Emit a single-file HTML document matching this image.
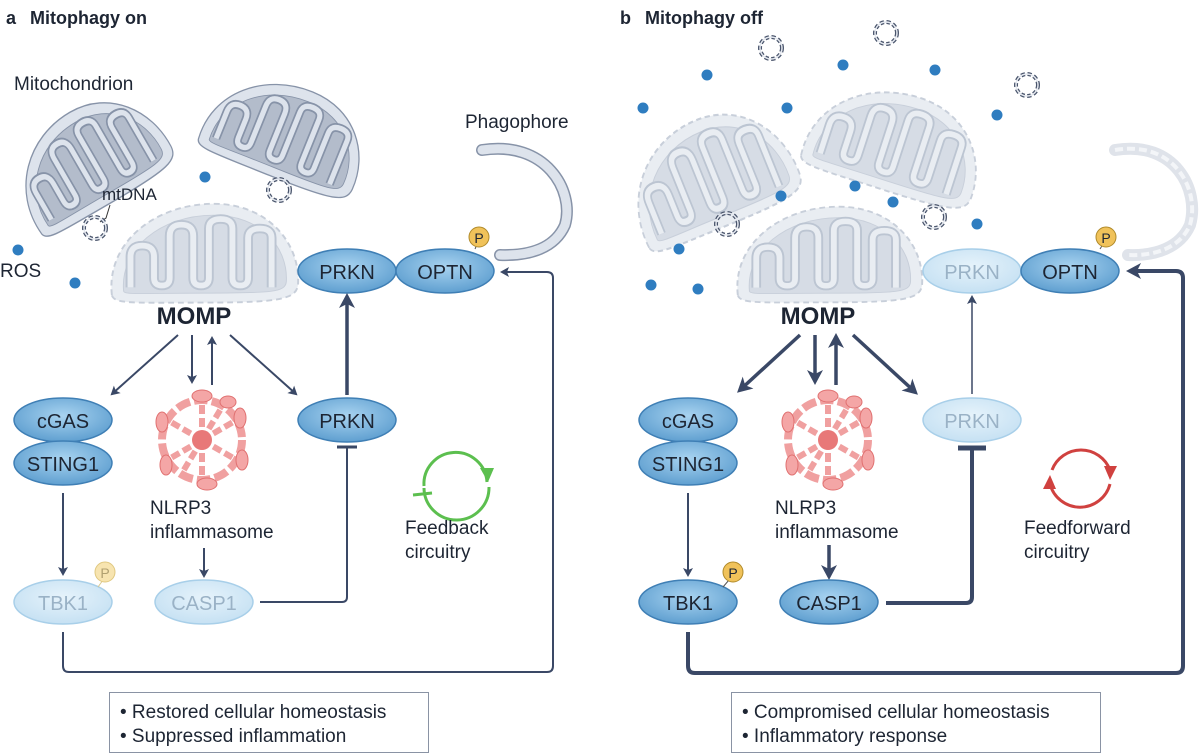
<!DOCTYPE html>
<html><head><meta charset="utf-8"><style>
html,body{margin:0;padding:0;background:#fff}
svg{display:block}
text{font-family:"Liberation Sans",sans-serif;fill:#1d2533}
</style></head><body>
<svg width="1200" height="755" viewBox="0 0 1200 755" xmlns="http://www.w3.org/2000/svg">
<defs>
<radialGradient id="gp" cx="50%" cy="40%" r="60%"><stop offset="0" stop-color="#a8d3f0"/><stop offset="1" stop-color="#5f9fd0"/></radialGradient>
<radialGradient id="gl" cx="50%" cy="40%" r="60%"><stop offset="0" stop-color="#e6f3fb"/><stop offset="1" stop-color="#c6e1f3"/></radialGradient>
<marker id="ah" markerWidth="10" markerHeight="10" refX="7" refY="5" orient="auto" markerUnits="userSpaceOnUse"><path d="M0,0 L9,5 L0,10 L2,5Z" fill="#3a4866"/></marker>
<marker id="ahb" markerWidth="16" markerHeight="16" refX="11" refY="8" orient="auto" markerUnits="userSpaceOnUse"><path d="M0,0 L15,8 L0,16 L4,8Z" fill="#3a4866"/></marker>
<path id="serp" d="M25,92 L25,60 Q25,48 37,48 Q49,48 49,60 L49,82 Q49,90 57,90 Q65,90 65,82 L65,38 Q65,26 77,26 Q89,26 89,38 L89,82 Q89,90 97,90 Q105,90 105,82 L105,30 Q105,20 117,20 Q129,20 129,30 L129,82 Q129,90 137,90 Q145,90 145,82 L145,40 Q145,30 157,30 Q169,30 169,40 L169,92" fill="none"/>
<g id="mitoA">
<path d="M6,100 C0,45 50,4 110,4 C165,4 198,45 196,88 C195,104 180,108 100,108 C30,108 8,110 6,100Z" fill="#dde3ec" stroke="#8793a8" stroke-width="1.5"/>
<path d="M18,96 C14,52 55,16 110,16 C158,16 186,50 184,86 C183,97 170,98 100,98 C38,98 19,100 18,96Z" fill="#b3bccb" stroke="#8793a8" stroke-width="1"/>
<use href="#serp" stroke="#8793a8" stroke-width="10" stroke-linejoin="round"/>
<use href="#serp" stroke="#dde3ec" stroke-width="6" stroke-linejoin="round"/>
</g>
<g id="mitoF">
<path d="M6,100 C0,45 50,4 110,4 C165,4 198,45 196,88 C195,104 180,108 100,108 C30,108 8,110 6,100Z" fill="#e9edf2" stroke="#c8cfda" stroke-width="2" stroke-dasharray="6 4"/>
<path d="M18,96 C14,52 55,16 110,16 C158,16 186,50 184,86 C183,97 170,98 100,98 C38,98 19,100 18,96Z" fill="#d6dce5" stroke="#c8cfda" stroke-width="1"/>
<use href="#serp" stroke="#bcc5d2" stroke-width="10" stroke-linejoin="round"/>
<use href="#serp" stroke="#e9edf2" stroke-width="6" stroke-linejoin="round"/>
</g>
<g id="dna"><circle r="11" fill="none" stroke="#4a556c" stroke-width="4" stroke-dasharray="4 2.5"/><circle r="11" fill="none" stroke="#e4e8ef" stroke-width="1.5"/></g>
<g id="infl">
<circle r="40" fill="none" stroke="#f0a0a0" stroke-width="8" stroke-dasharray="14 4"/>
<g stroke="#f0a0a0" stroke-width="6" stroke-dasharray="9 4"><path d="M0,0 L0,-38 M0,0 L33,-19 M0,0 L33,19 M0,0 L0,38 M0,0 L-33,19 M0,0 L-33,-19 M0,0 L20,-33 M0,0 L-20,33"/></g>
<circle r="10" fill="#e87878"/>
<g fill="#f4a6a6" stroke="#e07070" stroke-width="1"><ellipse cx="0" cy="-44" rx="10" ry="6"/><ellipse cx="38" cy="-22" rx="6" ry="10"/><ellipse cx="40" cy="20" rx="6" ry="10"/><ellipse cx="5" cy="44" rx="10" ry="6"/><ellipse cx="-36" cy="25" rx="6" ry="10"/><ellipse cx="-40" cy="-18" rx="6" ry="10"/><ellipse cx="26" cy="-38" rx="8" ry="6"/></g>
</g>
</defs>

<!-- PANEL A -->
<text x="6" y="24" font-size="18" font-weight="bold">a</text>
<text x="30" y="24" font-size="18" font-weight="bold">Mitophagy on</text>
<text x="14" y="90" font-size="19">Mitochondrion</text>
<use href="#mitoA" transform="translate(88,160) rotate(-30) scale(0.82,0.95) translate(-100,-57)"/>
<use href="#mitoA" transform="translate(287,133) rotate(22) scale(0.85,0.9) translate(-100,-57)"/>
<use href="#mitoF" transform="translate(106,200) scale(0.98,0.95)"/>
<text x="102" y="200" font-size="17">mtDNA</text>
<path d="M110,205 L106,218 L100,222" stroke="#333" stroke-width="1" fill="none"/>
<use href="#dna" x="95" y="228"/>
<use href="#dna" x="279" y="190"/>
<circle cx="18" cy="250" r="5.5" fill="#2f7dc0"/><circle cx="75" cy="283" r="5.5" fill="#2f7dc0"/><circle cx="205" cy="177" r="5.5" fill="#2f7dc0"/>
<text x="0" y="277" font-size="19">ROS</text>
<text x="465" y="128" font-size="19">Phagophore</text>
<path d="M482,150 C545,140 575,190 565,225 C555,248 530,256 500,255" fill="none" stroke="#8793a8" stroke-width="12" stroke-linecap="round"/>
<path d="M482,150 C545,140 575,190 565,225 C555,248 530,256 500,255" fill="none" stroke="#dde3ec" stroke-width="9" stroke-linecap="round"/>
<ellipse cx="347" cy="271" rx="49" ry="22" fill="url(#gp)" stroke="#3f7fb5" stroke-width="1.5"/>
<text x="347" y="279" font-size="20" text-anchor="middle">PRKN</text>
<ellipse cx="445" cy="271" rx="49" ry="22" fill="url(#gp)" stroke="#3f7fb5" stroke-width="1.5"/>
<text x="445" y="279" font-size="20" text-anchor="middle">OPTN</text>
<line x1="475" y1="249" x2="479" y2="240" stroke="#555" stroke-width="1"/>
<circle cx="479" cy="237" r="10" fill="#f0c25a" stroke="#b08a2a" stroke-width="1"/><text x="479" y="243" font-size="14" text-anchor="middle">P</text>
<text x="194" y="324" font-size="24" font-weight="bold" text-anchor="middle">MOMP</text>
<g stroke="#3a4866" stroke-width="2" fill="none">
<line x1="178" y1="335" x2="112" y2="394" marker-end="url(#ah)"/>
<line x1="192" y1="335" x2="192" y2="382" marker-end="url(#ah)"/>
<line x1="212" y1="385" x2="212" y2="338" marker-end="url(#ah)"/>
<line x1="230" y1="335" x2="296" y2="394" marker-end="url(#ah)"/>
<line x1="347" y1="395" x2="347" y2="297" stroke-width="3.5" marker-end="url(#ahb)"/>
<line x1="63" y1="493" x2="63" y2="574" marker-end="url(#ah)"/>
<line x1="204" y1="548" x2="204" y2="576" marker-end="url(#ah)"/>
<path d="M260,602 L342,602 Q347,602 347,597 L347,447"/>
<line x1="337" y1="447" x2="357" y2="447" stroke-width="3"/>
<path d="M63,632 L63,666 Q63,672 69,672 L547,672 Q553,672 553,666 L553,278 Q553,272 547,272 L502,272" marker-end="url(#ah)"/>
</g>
<ellipse cx="63" cy="420" rx="49" ry="22" fill="url(#gp)" stroke="#3f7fb5" stroke-width="1.5"/>
<text x="63" y="428" font-size="20" text-anchor="middle">cGAS</text>
<ellipse cx="63" cy="463" rx="49" ry="22" fill="url(#gp)" stroke="#3f7fb5" stroke-width="1.5"/>
<text x="63" y="471" font-size="20" text-anchor="middle">STING1</text>
<use href="#infl" x="202" y="440"/>
<text x="150" y="514" font-size="19">NLRP3</text>
<text x="150" y="538" font-size="19">inflammasome</text>
<ellipse cx="347" cy="420" rx="49" ry="22" fill="url(#gp)" stroke="#3f7fb5" stroke-width="1.5"/>
<text x="347" y="428" font-size="20" text-anchor="middle">PRKN</text>
<ellipse cx="63" cy="602" rx="49" ry="22" fill="url(#gl)" stroke="#a8cfe9" stroke-width="1.5"/>
<text x="63" y="610" font-size="20" text-anchor="middle" style="fill:#9ab2c6">TBK1</text>
<line x1="98" y1="587" x2="103" y2="580" stroke="#d8c890" stroke-width="1"/>
<circle cx="105" cy="572" r="10" fill="#f7e4b0" stroke="#e0c880" stroke-width="1"/><text x="105" y="578" font-size="14" text-anchor="middle" style="fill:#b0a070">P</text>
<ellipse cx="204" cy="602" rx="49" ry="22" fill="url(#gl)" stroke="#a8cfe9" stroke-width="1.5"/>
<text x="204" y="610" font-size="20" text-anchor="middle" style="fill:#9ab2c6">CASP1</text>
<g stroke="#5cbf4f" stroke-width="3" fill="none">
<path d="M424,486 A31,31 0 1 1 487,482"/>
<path d="M489,487 A31,31 0 0 1 424,488" />
<line x1="413" y1="495" x2="432" y2="493"/>
</g>
<path d="M480,468 L488,482 L494,468Z" fill="#5cbf4f"/>
<text x="405" y="534" font-size="19">Feedback</text>
<text x="405" y="558" font-size="19">circuitry</text>
<rect x="109.5" y="692.5" width="319" height="60" fill="#fff" stroke="#8a93a4" stroke-width="1"/>
<text x="120" y="718" font-size="19">• Restored cellular homeostasis</text>
<text x="120" y="742" font-size="19">• Suppressed inflammation</text>

<!-- PANEL B -->
<text x="620" y="24" font-size="18" font-weight="bold">b</text>
<text x="645" y="24" font-size="18" font-weight="bold">Mitophagy off</text>
<use href="#mitoF" transform="translate(709,175) rotate(-22) scale(0.88,1.05) translate(-100,-57)"/>
<use href="#mitoF" transform="translate(896,143) rotate(18) scale(0.92,0.95) translate(-100,-57)"/>
<use href="#mitoF" transform="translate(732,203) scale(0.97,0.92)"/>
<g fill="#2f7dc0">
<circle cx="707" cy="75" r="5.5"/><circle cx="643" cy="108" r="5.5"/><circle cx="787" cy="108" r="5.5"/><circle cx="843" cy="65" r="5.5"/><circle cx="935" cy="70" r="5.5"/><circle cx="997" cy="115" r="5.5"/><circle cx="855" cy="186" r="5.5"/><circle cx="893" cy="202" r="5.5"/><circle cx="781" cy="196" r="5.5"/><circle cx="679" cy="249" r="5.5"/><circle cx="651" cy="285" r="5.5"/><circle cx="698" cy="289" r="5.5"/><circle cx="977" cy="224" r="5.5"/>
</g>
<use href="#dna" x="771" y="48"/><use href="#dna" x="886" y="33"/><use href="#dna" x="1027" y="85"/><use href="#dna" x="727" y="224"/><use href="#dna" x="934" y="217"/>
<path d="M1115,150 C1175,140 1200,190 1190,225 C1180,248 1155,256 1128,255" fill="none" stroke="#dfe3ea" stroke-width="12" stroke-linecap="round"/>
<path d="M1115,150 C1175,140 1200,190 1190,225 C1180,248 1155,256 1128,255" fill="none" stroke="#f3f5f8" stroke-width="4" stroke-dasharray="8 4"/>
<ellipse cx="972" cy="271" rx="49" ry="22" fill="url(#gl)" stroke="#a8cfe9" stroke-width="1.5"/>
<text x="972" y="279" font-size="20" text-anchor="middle" style="fill:#9ab2c6">PRKN</text>
<ellipse cx="1070" cy="271" rx="49" ry="22" fill="url(#gp)" stroke="#3f7fb5" stroke-width="1.5"/>
<text x="1070" y="279" font-size="20" text-anchor="middle">OPTN</text>
<line x1="1100" y1="249" x2="1105" y2="241" stroke="#555" stroke-width="1"/>
<circle cx="1106" cy="237" r="10" fill="#f0c25a" stroke="#b08a2a" stroke-width="1"/><text x="1106" y="243" font-size="14" text-anchor="middle">P</text>
<text x="818" y="324" font-size="24" font-weight="bold" text-anchor="middle">MOMP</text>
<g stroke="#3a4866" stroke-width="3.5" fill="none">
<line x1="800" y1="335" x2="740" y2="390" marker-end="url(#ahb)"/>
<line x1="815" y1="335" x2="815" y2="381" marker-end="url(#ahb)"/>
<line x1="836" y1="385" x2="836" y2="337" marker-end="url(#ahb)"/>
<line x1="853" y1="335" x2="915" y2="392" marker-end="url(#ahb)"/>
<line x1="972" y1="394" x2="972" y2="297" stroke-width="1.5" marker-end="url(#ah)"/>
<line x1="688" y1="493" x2="688" y2="575" stroke-width="2" marker-end="url(#ah)"/>
<line x1="829" y1="545" x2="829" y2="576" marker-end="url(#ahb)"/>
<path d="M886,603 L966,603 Q972,603 972,597 L972,449" stroke-width="4"/>
<line x1="958" y1="448" x2="986" y2="448" stroke-width="5"/>
<path d="M688,632 L688,666 Q688,673 695,673 L1176,673 Q1183,673 1183,666 L1183,278 Q1183,271 1176,271 L1130,271" stroke-width="4" marker-end="url(#ahb)"/>
</g>
<ellipse cx="688" cy="420" rx="49" ry="22" fill="url(#gp)" stroke="#3f7fb5" stroke-width="1.5"/>
<text x="688" y="428" font-size="20" text-anchor="middle">cGAS</text>
<ellipse cx="688" cy="463" rx="49" ry="22" fill="url(#gp)" stroke="#3f7fb5" stroke-width="1.5"/>
<text x="688" y="471" font-size="20" text-anchor="middle">STING1</text>
<use href="#infl" x="828" y="440"/>
<text x="775" y="514" font-size="19">NLRP3</text>
<text x="775" y="538" font-size="19">inflammasome</text>
<ellipse cx="972" cy="420" rx="49" ry="22" fill="url(#gl)" stroke="#a8cfe9" stroke-width="1.5"/>
<text x="972" y="428" font-size="20" text-anchor="middle" style="fill:#9ab2c6">PRKN</text>
<ellipse cx="688" cy="602" rx="49" ry="22" fill="url(#gp)" stroke="#3f7fb5" stroke-width="1.5"/>
<text x="688" y="610" font-size="20" text-anchor="middle">TBK1</text>
<line x1="723" y1="587" x2="729" y2="580" stroke="#555" stroke-width="1"/>
<circle cx="733" cy="572" r="10" fill="#f0c25a" stroke="#b08a2a" stroke-width="1"/><text x="733" y="578" font-size="14" text-anchor="middle">P</text>
<ellipse cx="829" cy="602" rx="49" ry="22" fill="url(#gp)" stroke="#3f7fb5" stroke-width="1.5"/>
<text x="829" y="610" font-size="20" text-anchor="middle">CASP1</text>
<g stroke="#d0413f" stroke-width="3" fill="none">
<path d="M1052,470 A31,31 0 0 1 1110,470"/>
<path d="M1110,484 A31,31 0 0 1 1050,484"/>
</g>
<path d="M1104,466 L1110,480 L1117,466Z" fill="#d0413f"/>
<path d="M1043,489 L1050,475 L1056,489Z" fill="#d0413f"/>
<text x="1024" y="534" font-size="19">Feedforward</text>
<text x="1024" y="558" font-size="19">circuitry</text>
<rect x="731.5" y="692.5" width="369" height="60" fill="#fff" stroke="#8a93a4" stroke-width="1"/>
<text x="742" y="718" font-size="19">• Compromised cellular homeostasis</text>
<text x="742" y="742" font-size="19">• Inflammatory response</text>
</svg>
</body></html>
